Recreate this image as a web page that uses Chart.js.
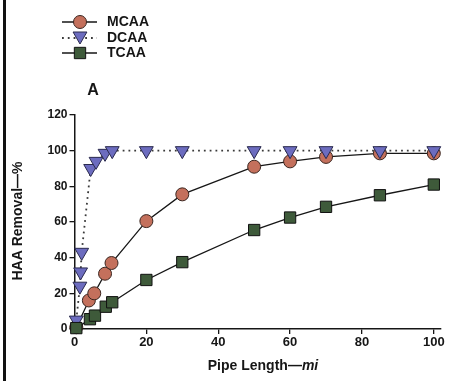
<!DOCTYPE html>
<html>
<head>
<meta charset="utf-8">
<script src="https://cdn.jsdelivr.net/npm/chart.js@4.4.1/dist/chart.umd.min.js"></script>
<style>
  html, body { margin: 0; padding: 0; background: #fff; }
  #wrap { position: relative; width: 450px; height: 381px; }
  #frame { position: absolute; left: 3px; top: 0; width: 3px; height: 381px; background: #111; }
  canvas { position: absolute; left: 0; top: 0; }
</style>
</head>
<body>
<div id="wrap">
  <canvas id="chart" width="450" height="381"></canvas>
  <div id="frame"></div>
</div>
<script>
// pipe length (mi) and HAA removal (%)
const mcaaX = [0.5, 4, 5.5, 8.5, 10.3, 20, 30, 50, 60, 70, 85, 100];
const mcaaY = [1, 16, 20, 31, 37, 60.5, 75.5, 91, 94, 96.5, 98.5, 98.5];

const dcaaX = [0.5, 1.5, 1.7, 2, 4.5, 6, 8.5, 10.5, 20, 30, 50, 60, 70, 85, 100];
const dcaaY = [5, 24, 32, 43, 90, 94, 98.5, 100, 100, 100, 100, 100, 100, 100, 100];

const tcaaX = [0.5, 4.3, 5.7, 8.7, 10.5, 20, 30, 50, 60, 70, 85, 100];
const tcaaY = [0.5, 5.5, 7.5, 12.5, 15, 27.5, 37.5, 55.5, 62.5, 68.5, 75, 81];

const xTicks = [0, 20, 40, 60, 80, 100];
const yTicks = [0, 20, 40, 60, 80, 100, 120];

const FONT = '"Liberation Sans", Arial, Helvetica, sans-serif';
const INK = '#161616';

const toPoints = (xs, ys) => xs.map((x, i) => ({ x: x, y: ys[i] }));

const SERIES = [
  {
    label: 'MCAA',
    data: toPoints(mcaaX, mcaaY),
    borderColor: INK,
    borderWidth: 1.3,
    pointStyle: 'circle',
    pointRadius: 6.5,
    pointBackgroundColor: '#c4705c',
    pointBorderColor: '#3a2620',
    pointBorderWidth: 1,
    order: 3
  },
  {
    label: 'DCAA',
    data: toPoints(dcaaX, dcaaY),
    borderColor: '#3a3a3a',
    borderWidth: 1.8,
    borderDash: [1.8, 4],
    pointStyle: 'triangle',
    pointRotation: 180,
    pointRadius: 8,
    pointBackgroundColor: '#6c6cbf',
    pointBorderColor: '#2a2a4e',
    pointBorderWidth: 1,
    order: 2
  },
  {
    label: 'TCAA',
    data: toPoints(tcaaX, tcaaY),
    borderColor: INK,
    borderWidth: 1.3,
    pointStyle: 'rect',
    pointRadius: 8,
    pointBackgroundColor: '#3e5a3a',
    pointBorderColor: '#111',
    pointBorderWidth: 1,
    order: 1
  }
];

// legend, panel letter and axis titles drawn onto the canvas
const decorations = {
  id: 'decorations',
  afterDraw(chart) {
    const ctx = chart.ctx;
    ctx.save();
    ctx.fillStyle = INK;

    const rows = [22, 38, 53];
    SERIES.forEach((s, i) => {
      const y = rows[i];
      ctx.strokeStyle = s.borderColor;
      ctx.lineWidth = s.borderWidth;
      ctx.setLineDash(s.borderDash || []);
      ctx.beginPath();
      ctx.moveTo(62, y);
      ctx.lineTo(97, y);
      ctx.stroke();
      ctx.setLineDash([]);
      ctx.fillStyle = s.pointBackgroundColor;
      ctx.strokeStyle = s.pointBorderColor;
      ctx.lineWidth = s.pointBorderWidth;
      Chart.helpers.drawPoint(ctx, {
        pointStyle: s.pointStyle,
        radius: s.pointRadius,
        rotation: s.pointRotation || 0,
        borderWidth: s.pointBorderWidth
      }, 80, s.pointStyle === 'triangle' ? y - 2 : y);
      ctx.fillStyle = INK;
      ctx.font = 'bold 14px ' + FONT;
      ctx.textAlign = 'left';
      ctx.textBaseline = 'middle';
      ctx.fillText(s.label, 107, y);
    });

    ctx.font = 'bold 16px ' + FONT;
    ctx.textAlign = 'center';
    ctx.textBaseline = 'middle';
    ctx.fillText('A', 93, 91);

    // y title
    ctx.save();
    ctx.translate(18, 221);
    ctx.rotate(-Math.PI / 2);
    ctx.font = 'bold 14px ' + FONT;
    ctx.fillText('HAA Removal\u2014%', 0, 0);
    ctx.restore();

    // x title, units in italic
    const a = 'Pipe Length\u2014';
    const b = 'mi';
    ctx.font = 'bold 14px ' + FONT;
    const wa = ctx.measureText(a).width;
    ctx.font = 'italic bold 14px ' + FONT;
    const wb = ctx.measureText(b).width;
    const x0 = 263 - (wa + wb) / 2;
    ctx.textAlign = 'left';
    ctx.font = 'bold 14px ' + FONT;
    ctx.fillText(a, x0, 366);
    ctx.font = 'italic bold 14px ' + FONT;
    ctx.fillText(b, x0 + wa, 366);

    ctx.restore();
  }
};

const axisCommon = {
  type: 'linear',
  grid: { drawOnChartArea: false, drawTicks: true, tickLength: 5, color: INK, lineWidth: 1.3 },
  border: { color: INK, width: 1.5 }
};

new Chart(document.getElementById('chart'), {
  type: 'line',
  data: {
    datasets: SERIES.map(s => Object.assign({ fill: false, tension: 0, clip: false }, s))
  },
  options: {
    responsive: false,
    animation: false,
    layout: { padding: { top: 115, right: 8, left: 0, bottom: 0 } },
    plugins: { legend: { display: false }, tooltip: { enabled: false } },
    scales: {
      x: Object.assign({}, axisCommon, {
        min: 0,
        max: 102,
        afterBuildTicks: s => { s.ticks = xTicks.map(v => ({ value: v })); },
        afterFit: s => { s.height = 52; },
        ticks: { font: { family: FONT, size: 13, weight: 'bold' }, color: INK, padding: 1, maxRotation: 0 }
      }),
      y: Object.assign({}, axisCommon, {
        min: 0,
        max: 120,
        afterBuildTicks: s => { s.ticks = yTicks.map(v => ({ value: v })); },
        afterFit: s => { s.width = 74.5; },
        ticks: { font: { family: FONT, size: 12, weight: 'bold' }, color: INK, padding: 2 }
      })
    }
  },
  plugins: [decorations]
});
</script>
</body>
</html>
